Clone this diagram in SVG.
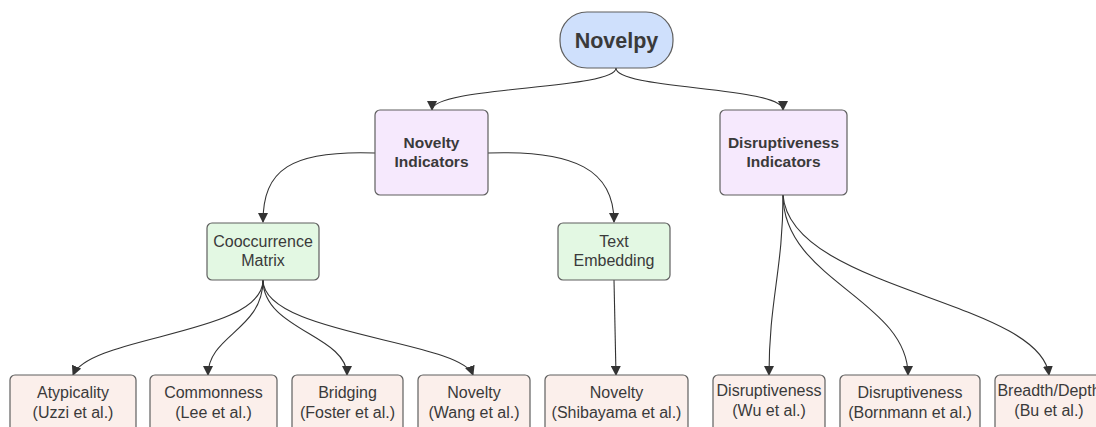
<svg xmlns="http://www.w3.org/2000/svg" width="1096" height="427" viewBox="0 0 1096 427">
<defs>
<marker id="ah" viewBox="0 0 10 10" refX="9" refY="5" markerWidth="10" markerHeight="10" markerUnits="userSpaceOnUse" orient="auto">
<path d="M0,0 L10,5 L0,10 z" fill="#333"/>
</marker>
<style>
.n{stroke:#5f5f5f;stroke-width:1.2}
.root{fill:#cfe0fc}
.ind{fill:#f6e9fd}
.mid{fill:#e3f8e3}
.leaf{fill:#fbefeb}
text{font-family:"Liberation Sans",Arial,sans-serif;fill:#3a3a3a;text-anchor:middle;font-size:16px}
.b{font-weight:bold;font-size:15.5px}
.c path{fill:none;stroke:#333;stroke-width:1.1;marker-end:url(#ah)}
</style>
</defs>
<rect width="1096" height="427" fill="#fff"/>
<g class="c" id="connectors">
<path d="M616,68 C616,90 432,86 432,110"/>
<path d="M616,68 C616,90 783,86 783,110"/>
<path d="M375,153 C290,150 263,170 263,222"/>
<path d="M488,153 C575,150 614,170 614,222"/>
<path d="M263,280 C263,335 90,335 73,375"/>
<path d="M263,280 C263,330 208,335 208,375"/>
<path d="M263,280 C263,330 347,335 347,375"/>
<path d="M263,280 C263,335 460,340 473,375"/>
<path d="M614,280 L616,375"/>
<path d="M783,195 C783,270 769,300 769,375"/>
<path d="M783,195 C783,280 908,300 908,375"/>
<path d="M783,195 C790,290 1040,300 1049,375"/>
</g>
<g id="novelpy"><rect class="n root" x="560" y="12" width="113" height="56" rx="27"/><text class="b" x="616.5" y="48" style="font-size:21.5px">Novelpy</text></g>
<g id="novelty-indicators"><rect class="n ind" x="375" y="110" width="113" height="85" rx="5"/><text class="b" x="431.5" y="148">Novelty</text><text class="b" x="431.5" y="167">Indicators</text></g>
<g id="disruptiveness-indicators"><rect class="n ind" x="720" y="110" width="127" height="85" rx="5"/><text class="b" x="783.5" y="148">Disruptiveness</text><text class="b" x="783.5" y="167">Indicators</text></g>
<g id="cooccurrence"><rect class="n mid" x="207" y="223" width="112" height="57" rx="5"/><text x="263" y="247">Cooccurrence</text><text x="263" y="266">Matrix</text></g>
<g id="text-embedding"><rect class="n mid" x="558" y="223" width="112" height="57" rx="5"/><text x="614" y="247">Text</text><text x="614" y="266">Embedding</text></g>
<g id="atypicality"><rect class="n leaf" x="10" y="375" width="126" height="70" rx="5"/><text x="73" y="398">Atypicality</text><text x="73" y="418">(Uzzi et al.)</text></g>
<g id="commonness"><rect class="n leaf" x="150" y="375" width="127" height="70" rx="5"/><text x="213.5" y="398">Commonness</text><text x="213.5" y="418">(Lee et al.)</text></g>
<g id="bridging"><rect class="n leaf" x="292" y="375" width="111" height="70" rx="5"/><text x="347.5" y="398">Bridging</text><text x="347.5" y="418">(Foster et al.)</text></g>
<g id="novelty-wang"><rect class="n leaf" x="418" y="375" width="112" height="70" rx="5"/><text x="474" y="398">Novelty</text><text x="474" y="418">(Wang et al.)</text></g>
<g id="novelty-shibayama"><rect class="n leaf" x="545" y="375" width="143" height="70" rx="5"/><text x="616.5" y="398">Novelty</text><text x="616.5" y="418">(Shibayama et al.)</text></g>
<g id="disruptiveness-wu"><rect class="n leaf" x="713" y="375" width="112" height="70" rx="5"/><text x="769" y="396">Disruptiveness</text><text x="769" y="416">(Wu et al.)</text></g>
<g id="disruptiveness-bornmann"><rect class="n leaf" x="840" y="375" width="140" height="70" rx="5"/><text x="910" y="398">Disruptiveness</text><text x="910" y="418">(Bornmann et al.)</text></g>
<g id="breadth-depth"><rect class="n leaf" x="995" y="375" width="130" height="70" rx="5"/><text x="1049" y="396">Breadth/Depth</text><text x="1049" y="416">(Bu et al.)</text></g>
</svg>
